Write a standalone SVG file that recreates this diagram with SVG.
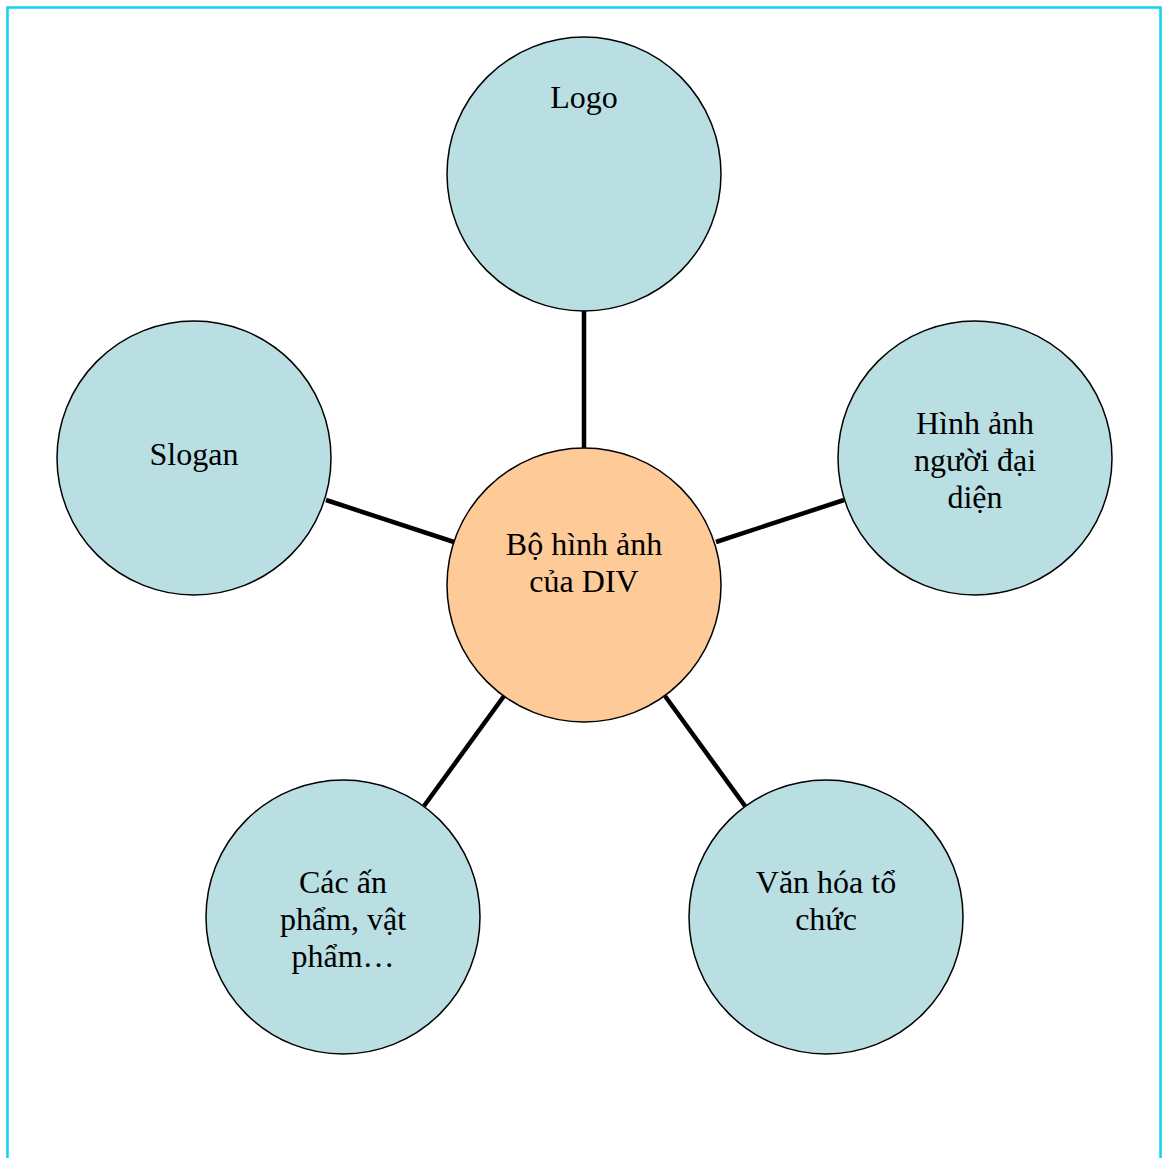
<svg xmlns="http://www.w3.org/2000/svg" width="1163" height="1158" viewBox="0 0 1163 1158">
  <style>
    .frame { fill: none; stroke: #14cdf8; stroke-width: 2.5; }
    .bubble { fill: #b9dfe3; stroke: #000; stroke-width: 1.5; }
    .hub { fill: #fdca98; stroke: #000; stroke-width: 1.5; }
    .link { stroke: #000; stroke-width: 4.5; }
    .label { font-family: "Liberation Serif", "Times New Roman", serif; font-size: 32px; fill: #000; text-anchor: middle; }
  </style>
  <rect width="1163" height="1158" fill="#fff"/>
  <!-- page frame (open at the bottom) -->
  <path class="frame" d="M7.5 1158 V7.5 H1160.5 V1158"/>

  <g id="connectors">
    <line class="link" x1="584" y1="311" x2="584" y2="448"/>
    <line class="link" x1="326" y1="500" x2="454" y2="542"/>
    <line class="link" x1="716" y1="542" x2="844" y2="500"/>
    <line class="link" x1="504" y1="696" x2="424" y2="806"/>
    <line class="link" x1="665" y1="696" x2="745" y2="806"/>
  </g>

  <g id="logo">
    <circle class="bubble" cx="584" cy="174" r="137"/>
    <text class="label" x="584" y="108">Logo</text>
  </g>

  <g id="slogan">
    <circle class="bubble" cx="194" cy="458" r="137"/>
    <text class="label" x="194" y="465">Slogan</text>
  </g>

  <g id="representative">
    <circle class="bubble" cx="975" cy="458" r="137"/>
    <text class="label" x="975" y="434">Hình ảnh</text>
    <text class="label" x="975" y="471">người đại</text>
    <text class="label" x="975" y="508">diện</text>
  </g>

  <g id="publications">
    <circle class="bubble" cx="343" cy="917" r="137"/>
    <text class="label" x="343" y="893">Các ấn</text>
    <text class="label" x="343" y="930">phẩm, vật</text>
    <text class="label" x="343" y="967">phẩm…</text>
  </g>

  <g id="culture">
    <circle class="bubble" cx="826" cy="917" r="137"/>
    <text class="label" x="826" y="893">Văn hóa tổ</text>
    <text class="label" x="826" y="930">chức</text>
  </g>

  <g id="center">
    <circle class="hub" cx="584" cy="585" r="137"/>
    <text class="label" x="584" y="555">Bộ hình ảnh</text>
    <text class="label" x="584" y="592">của DIV</text>
  </g>
</svg>
